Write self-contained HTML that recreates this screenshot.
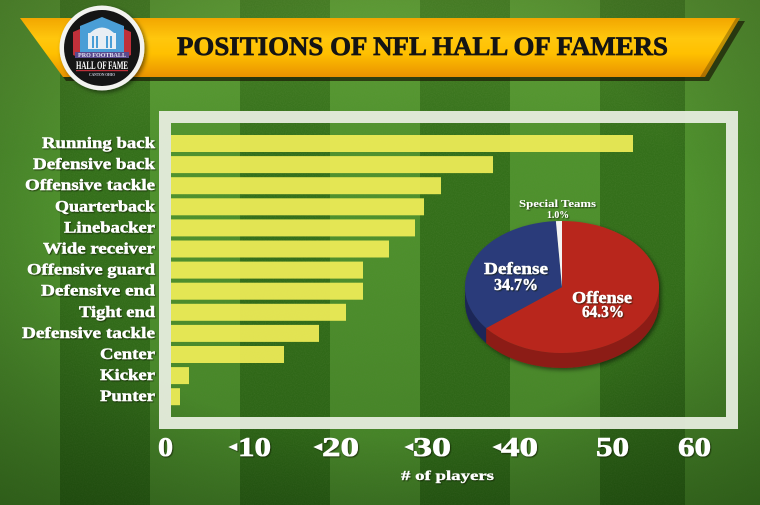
<!DOCTYPE html>
<html>
<head>
<meta charset="utf-8">
<style>
  html,body{margin:0;padding:0;background:#3a7a1e;}
  svg{display:block;}
  text{font-family:"Liberation Serif",serif;font-weight:bold;}
</style>
</head>
<body>
<svg width="760" height="505" viewBox="0 0 760 505" xmlns="http://www.w3.org/2000/svg">
  <defs>
    <linearGradient id="banner" x1="0" y1="0" x2="0" y2="1">
      <stop offset="0" stop-color="#f2a600"/>
      <stop offset="0.35" stop-color="#ffc70d"/>
      <stop offset="0.6" stop-color="#ffc000"/>
      <stop offset="1" stop-color="#e99200"/>
    </linearGradient>
    <linearGradient id="topglow" x1="0" y1="0" x2="0" y2="1">
      <stop offset="0" stop-color="#a8d060" stop-opacity="0.22"/>
      <stop offset="0.3" stop-color="#a8d060" stop-opacity="0.05"/>
      <stop offset="1" stop-color="#000" stop-opacity="0.12"/>
    </linearGradient>
    <radialGradient id="vig" cx="0.5" cy="0.45" r="0.75">
      <stop offset="0.55" stop-color="#000" stop-opacity="0"/>
      <stop offset="1" stop-color="#0a2200" stop-opacity="0.35"/>
    </radialGradient>
    <filter id="noise" x="0" y="0" width="100%" height="100%">
      <feTurbulence type="fractalNoise" baseFrequency="0.9" numOctaves="2" seed="3"/>
      <feColorMatrix type="matrix" values="0 0 0 0 0.1  0 0 0 0 0.25  0 0 0 0 0.05  0 0 0 0.9 -0.3"/>
    </filter>
    <filter id="ts" x="-10%" y="-30%" width="120%" height="160%">
      <feDropShadow dx="1" dy="1" stdDeviation="0.6" flood-color="#0a1a00" flood-opacity="0.7"/>
    </filter>
    <filter id="sh" x="-20%" y="-20%" width="140%" height="140%">
      <feDropShadow dx="2" dy="2" stdDeviation="2" flood-color="#000" flood-opacity="0.5"/>
    </filter>
  </defs>

  <!-- grass stripes -->
  <rect x="0" y="0" width="760" height="505" fill="#4a8f2a"/>
  <rect x="60" y="0" width="90" height="505" fill="#2d6a16"/>
  <rect x="240" y="0" width="90" height="505" fill="#2d6a16"/>
  <rect x="420" y="0" width="90" height="505" fill="#2d6a16"/>
  <rect x="600" y="0" width="85" height="505" fill="#2d6a16"/>
  <rect x="0" y="0" width="760" height="505" filter="url(#noise)" opacity="0.55"/>
  <rect x="0" y="0" width="760" height="505" fill="url(#topglow)"/>
  <rect x="0" y="0" width="760" height="505" fill="url(#vig)"/>

  <!-- banner -->
  <polygon points="23,21 745,21 709,81 66,81" fill="#1a1a05" opacity="0.7"/>
  <polygon points="20,18 740,18 705,77 63,77" fill="url(#banner)"/>
  <polygon points="736,18 740,18 705,77 700,77" fill="#3a2a00" opacity="0.35"/>
  <text x="177" y="55" font-size="26" fill="#141414" stroke="#141414" stroke-width="0.7" textLength="491" lengthAdjust="spacingAndGlyphs">POSITIONS OF NFL HALL OF FAMERS</text>

  <!-- logo -->
  <g filter="url(#sh)">
    <circle cx="102" cy="48" r="42.5" fill="#f3f3f0"/>
  </g>
  <circle cx="102" cy="48" r="38" fill="#151515"/>
  <polygon points="73,32 80,29 80,58 73,55" fill="#c0303a"/>
  <polygon points="131,32 124,29 124,58 131,55" fill="#c0303a"/>
  <polygon points="102,17 124,26 124,52 80,52 80,26" fill="#4a9ed6"/>
  <rect x="88" y="33" width="28" height="16" fill="#e8eef4"/>
  <path d="M90 33 Q102 22 114 33 Z" fill="#e8eef4"/>
  <rect x="92" y="36" width="2" height="12" fill="#4a9ed6"/>
  <rect x="96" y="36" width="2" height="12" fill="#4a9ed6"/>
  <rect x="106" y="36" width="2" height="12" fill="#4a9ed6"/>
  <rect x="110" y="36" width="2" height="12" fill="#4a9ed6"/>
  <rect x="75" y="52" width="54" height="6" fill="#5a4a8c"/>
  <text x="78" y="57" font-size="6" fill="#e0e0f0" textLength="48" lengthAdjust="spacingAndGlyphs">PRO FOOTBALL</text>
  <text x="76" y="69" font-size="12" fill="#ffffff" textLength="52" lengthAdjust="spacingAndGlyphs" font-family="Liberation Sans, sans-serif">HALL OF FAME</text>
  <rect x="76" y="70" width="52" height="1.2" fill="#c0303a"/>
  <text x="89" y="76" font-size="4.5" fill="#c8c8d8" textLength="26" lengthAdjust="spacingAndGlyphs">CANTON OHIO</text>

  <!-- frame -->
  <rect x="165" y="117" width="567" height="306" fill="none" stroke="#e9efe2" stroke-opacity="0.93" stroke-width="12"/>

  <!-- bars -->
  <g fill="#f1ee58" fill-opacity="0.92">
    <rect x="171" y="135" width="462" height="17"/>
    <rect x="171" y="156.1" width="322" height="17"/>
    <rect x="171" y="177.2" width="270" height="17"/>
    <rect x="171" y="198.3" width="253" height="17"/>
    <rect x="171" y="219.4" width="244" height="17"/>
    <rect x="171" y="240.5" width="218" height="17"/>
    <rect x="171" y="261.6" width="192" height="17"/>
    <rect x="171" y="282.7" width="192" height="17"/>
    <rect x="171" y="303.8" width="175" height="17"/>
    <rect x="171" y="324.9" width="148" height="17"/>
    <rect x="171" y="346" width="113" height="17"/>
    <rect x="171" y="367.1" width="18" height="17"/>
    <rect x="171" y="388.2" width="9" height="17"/>
  </g>

  <!-- category labels -->
  <g fill="#ffffff" stroke="#ffffff" stroke-width="0.4" font-size="16" filter="url(#ts)">
    <text x="42" y="148" textLength="113" lengthAdjust="spacingAndGlyphs">Running back</text>
    <text x="33" y="169.1" textLength="122" lengthAdjust="spacingAndGlyphs">Defensive back</text>
    <text x="25" y="190.2" textLength="130" lengthAdjust="spacingAndGlyphs">Offensive tackle</text>
    <text x="55" y="211.3" textLength="100" lengthAdjust="spacingAndGlyphs">Quarterback</text>
    <text x="64" y="232.4" textLength="91" lengthAdjust="spacingAndGlyphs">Linebacker</text>
    <text x="43" y="253.5" textLength="112" lengthAdjust="spacingAndGlyphs">Wide receiver</text>
    <text x="27" y="274.6" textLength="128" lengthAdjust="spacingAndGlyphs">Offensive guard</text>
    <text x="41" y="295.7" textLength="114" lengthAdjust="spacingAndGlyphs">Defensive end</text>
    <text x="79" y="316.8" textLength="76" lengthAdjust="spacingAndGlyphs">Tight end</text>
    <text x="22" y="337.9" textLength="133" lengthAdjust="spacingAndGlyphs">Defensive tackle</text>
    <text x="100" y="359" textLength="55" lengthAdjust="spacingAndGlyphs">Center</text>
    <text x="100" y="380.1" textLength="55" lengthAdjust="spacingAndGlyphs">Kicker</text>
    <text x="100" y="401.2" textLength="55" lengthAdjust="spacingAndGlyphs">Punter</text>
  </g>

  <!-- x axis labels -->
  <g fill="#ffffff" stroke="#ffffff" stroke-width="0.6" font-size="27" filter="url(#ts)">
    <text x="158" y="456" textLength="15" lengthAdjust="spacingAndGlyphs">0</text>
    <text x="238" y="456" textLength="33" lengthAdjust="spacingAndGlyphs">10</text>
    <text x="322" y="456" textLength="37" lengthAdjust="spacingAndGlyphs">20</text>
    <text x="413" y="456" textLength="38" lengthAdjust="spacingAndGlyphs">30</text>
    <text x="501" y="456" textLength="37" lengthAdjust="spacingAndGlyphs">40</text>
    <text x="596" y="456" textLength="33" lengthAdjust="spacingAndGlyphs">50</text>
    <text x="678" y="456" textLength="33" lengthAdjust="spacingAndGlyphs">60</text>
    <polygon points="229,447 237,443.5 237,450.5"/>
    <polygon points="314,447 322,443.5 322,450.5"/>
    <polygon points="405,447 413,443.5 413,450.5"/>
    <polygon points="493,447 501,443.5 501,450.5"/>
  </g>
  <text x="401" y="480" font-size="14" fill="#ffffff" stroke="#ffffff" stroke-width="0.3" textLength="93" lengthAdjust="spacingAndGlyphs" filter="url(#ts)"># of players</text>

  <!-- pie chart -->
  <g filter="url(#sh)">
    <path d="M659 287 A97 66 0 0 1 486.1 328.1 L486.1 343.1 A97 66 0 0 0 659 302 Z" fill="#8c1c16"/>
    <path d="M486.1 328.1 A97 66 0 0 1 465 287 L465 302 A97 66 0 0 0 486.1 343.1 Z" fill="#1c2858"/>
    <path d="M562 287 L562 221 A97 66 0 1 1 486.1 328.1 Z" fill="#b8271f"/>
    <path d="M562 287 L486.1 328.1 A97 66 0 0 1 555.9 221.1 Z" fill="#2b3a7a"/>
    <path d="M562 287 L555.9 221.1 A97 66 0 0 1 562 221 Z" fill="#f4f4f4"/>
  </g>
  <g fill="#ffffff" filter="url(#ts)">
    <text x="519" y="207" font-size="10" textLength="77" lengthAdjust="spacingAndGlyphs">Special Teams</text>
    <text x="547" y="218" font-size="10" textLength="22" lengthAdjust="spacingAndGlyphs" font-weight="normal">1.0%</text>
    <g stroke="#ffffff" stroke-width="0.4">
      <text x="484" y="274" font-size="17" textLength="64" lengthAdjust="spacingAndGlyphs">Defense</text>
      <text x="494" y="290" font-size="17" textLength="44" lengthAdjust="spacingAndGlyphs">34.7%</text>
      <text x="572" y="303" font-size="17" textLength="60" lengthAdjust="spacingAndGlyphs">Offense</text>
      <text x="582" y="317" font-size="17" textLength="42" lengthAdjust="spacingAndGlyphs">64.3%</text>
    </g>
  </g>
</svg>
</body>
</html>
